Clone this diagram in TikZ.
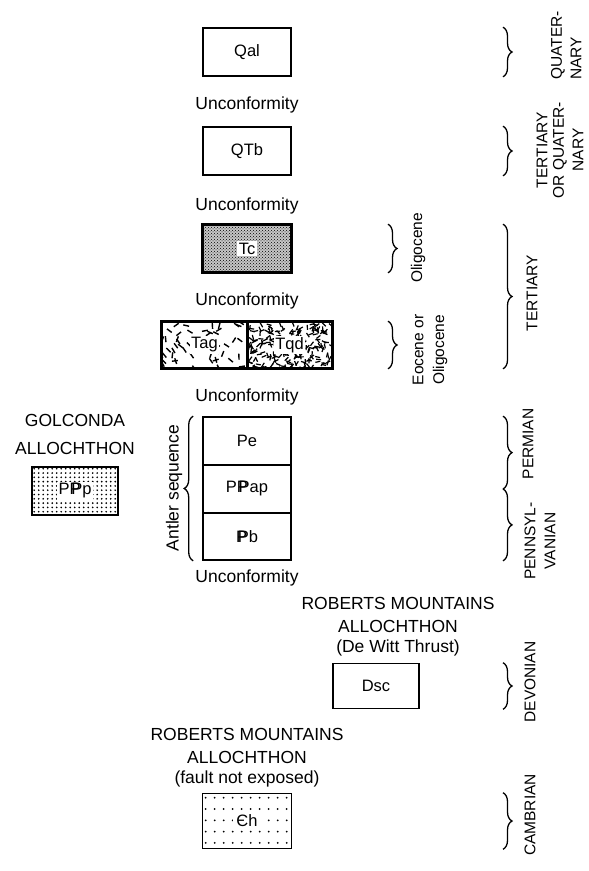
\documentclass[tikz,border=0pt]{standalone}
\usepackage{fontspec}
\setmainfont{Liberation Sans}
\usetikzlibrary{decorations.pathreplacing,patterns}
\newcommand{\PennP}{P\kern-0.56em P}
\begin{document}
\begin{tikzpicture}[x=1pt,y=-1pt,
  unit/.style={draw,line width=1.6pt,minimum width=88pt,minimum height=48pt,inner sep=0pt,font=\fontsize{16.5}{19}\selectfont},
  lab/.style={font=\fontsize{17.5}{21}\selectfont,inner sep=0pt},
  rlab/.style={font=\fontsize{15.5}{18}\selectfont,rotate=90,inner sep=0pt},
  rbrace/.style={decorate,decoration={brace,amplitude=9pt},line width=1.3pt},
  boxlab/.style={fill=white,inner sep=1.5pt,font=\fontsize{16.5}{19}\selectfont},
  frame/.style={line width=1.6pt},
]
\useasboundingbox (0,0) rectangle (589,871);

% --- central column ---
\node[unit] (qal) at (247,52) {Qal};
\node[lab] (u1) at (247,105) {Unconformity};
\node[unit] (qtb) at (247,151) {QTb};
\node[lab] (u2) at (247,206) {Unconformity};
\node[unit,minimum height=47pt,preaction={fill=black!22},pattern=crosshatch dots] (tc) at (247,248.5) {};
\draw[frame] (tc.north west) rectangle (tc.south east);
\node[boxlab] (tclab) at (tc) {Tc};
\node[lab] (u3) at (247,301) {Unconformity};
\node[unit,minimum width=85pt,minimum height=46pt] (tag) at (204.5,345) {};
\node[unit,minimum width=85pt,minimum height=46pt] (tqd) at (289.5,345) {};
% Tag pattern (sparse dashes)
\begin{scope}
  \clip (tag.north west) rectangle (tag.south east);
  \pgfmathsetseed{11}
  \foreach \i in {1,...,50}{
    \pgfmathsetmacro{\px}{rnd*85}
    \pgfmathsetmacro{\py}{rnd*46}
    \pgfmathsetmacro{\pa}{rnd*180}
    \draw[line width=1.4pt] ([shift={(\px,\py)}]tag.north west) -- ++(\pa:6);
  }
\end{scope}
% Tqd pattern (dense dashes)
\begin{scope}
  \clip (tqd.north west) rectangle (tqd.south east);
  \pgfmathsetseed{5}
  \foreach \i in {1,...,230}{
    \pgfmathsetmacro{\px}{rnd*85}
    \pgfmathsetmacro{\py}{rnd*46}
    \pgfmathsetmacro{\pa}{rnd*180}
    \draw[line width=1.2pt] ([shift={(\px,\py)}]tqd.north west) -- ++(\pa:5);
  }
\end{scope}
\draw[frame] (tag.north west) rectangle (tqd.south east);
\draw[frame] (tag.north east) -- (tag.south east);
\node[boxlab] (taglab) at (tag) {Tag};
\node[boxlab] (tqdlab) at (tqd) {Tqd};
\node[lab] (u4) at (247,397) {Unconformity};
\node[unit] (pe) at (247,441) {Pe};
\node[unit] (ppap) at (247,489) {P\PennP ap};
\node[unit,minimum height=47pt] (pb) at (247,536.5) {\PennP b};
\node[lab] (u5) at (247,578) {Unconformity};

% Antler sequence
\draw[rbrace] ([xshift=-9pt]pb.south west) -- ([xshift=-9pt]pe.north west);
\node[lab,rotate=90] (antler) at (174,488) {Antler sequence};

% --- Golconda ---
\node[lab] (gol1) at (75,420) {GOLCONDA};
\node[lab] (gol2) at (75,448) {ALLOCHTHON};
\node[unit,minimum width=86pt] (pipp) at (75,491) {};
\foreach \i in {0,...,18}{
  \foreach \j in {0,...,10}{
    \fill ([shift={(3+\i*4.5,2.5+\j*4.3)}]pipp.north west) circle (0.95);
  }
}
\node[boxlab] (pipplab) at (pipp) {P\PennP p};

% --- Roberts Mountains (De Witt) ---
\node[lab] (rm1) at (398,603) {ROBERTS MOUNTAINS};
\node[lab] (rm2) at (398,626) {ALLOCHTHON};
\node[lab] (rm3) at (398,648) {(De Witt Thrust)};
\node[unit,minimum width=86pt,minimum height=45pt] (dsc) at (376,686) {Dsc};

% --- Roberts Mountains (fault not exposed) ---
\node[lab] (rn1) at (247,734) {ROBERTS MOUNTAINS};
\node[lab] (rn2) at (247,757) {ALLOCHTHON};
\node[lab] (rn3) at (247,779) {(fault not exposed)};
\node[unit,minimum width=89pt,minimum height=55pt] (ch) at (247,821) {};
\foreach \i in {0,...,9}{
  \foreach \j in {0,...,4}{
    \fill ([shift={(4+\i*9,5+\j*11.3)}]ch.north west) circle (1);
  }
}
\node[boxlab,inner sep=3pt] (chlab) at (ch) {Єh};

% --- epoch braces ---
\coordinate (ox) at (388,0);
\draw[rbrace] (tc.north -| ox) -- (tc.south -| ox);
\node[rlab] (olig1) at (418,248) {Oligocene};
\draw[rbrace] (tag.north -| ox) -- (tag.south -| ox);
\node[rlab] (eoc1) at (418,350) {Eocene or};
\node[rlab] (eoc2) at (440,350) {Oligocene};

% --- period braces ---
\coordinate (rx) at (503,0);
\draw[rbrace] (qal.north -| rx) -- (qal.south -| rx);
\node[rlab,anchor=west] (q1) at (558,80) {QUATER-};
\node[rlab,anchor=west] (q2) at (576,80) {NARY};
\draw[rbrace] (qtb.north -| rx) -- (qtb.south -| rx);
\node[rlab] (tq1) at (542,150) {TERTIARY};
\node[rlab] (tq2) at (560,150) {OR QUATER-};
\node[rlab] (tq3) at (578,150) {NARY};
\draw[rbrace] (tc.north -| rx) -- (tag.south -| rx);
\node[rlab] (tert) at (532,293) {TERTIARY};
\coordinate (pm) at (503,489);
\draw[rbrace] (pe.north -| rx) -- (pm);
\draw[rbrace] (pm) -- (pb.south -| rx);
\node[rlab] (perm) at (528,444) {PERMIAN};
\node[rlab] (penn1) at (530,541) {PENNSYL-};
\node[rlab] (penn2) at (550,541) {VANIAN};
\draw[rbrace] (dsc.north -| rx) -- (dsc.south -| rx);
\node[rlab] (dev) at (530,682) {DEVONIAN};
\draw[rbrace] (ch.north -| rx) -- (ch.south -| rx);
\node[rlab] (cam) at (530,815) {CAMBRIAN};
\end{tikzpicture}
\end{document}
